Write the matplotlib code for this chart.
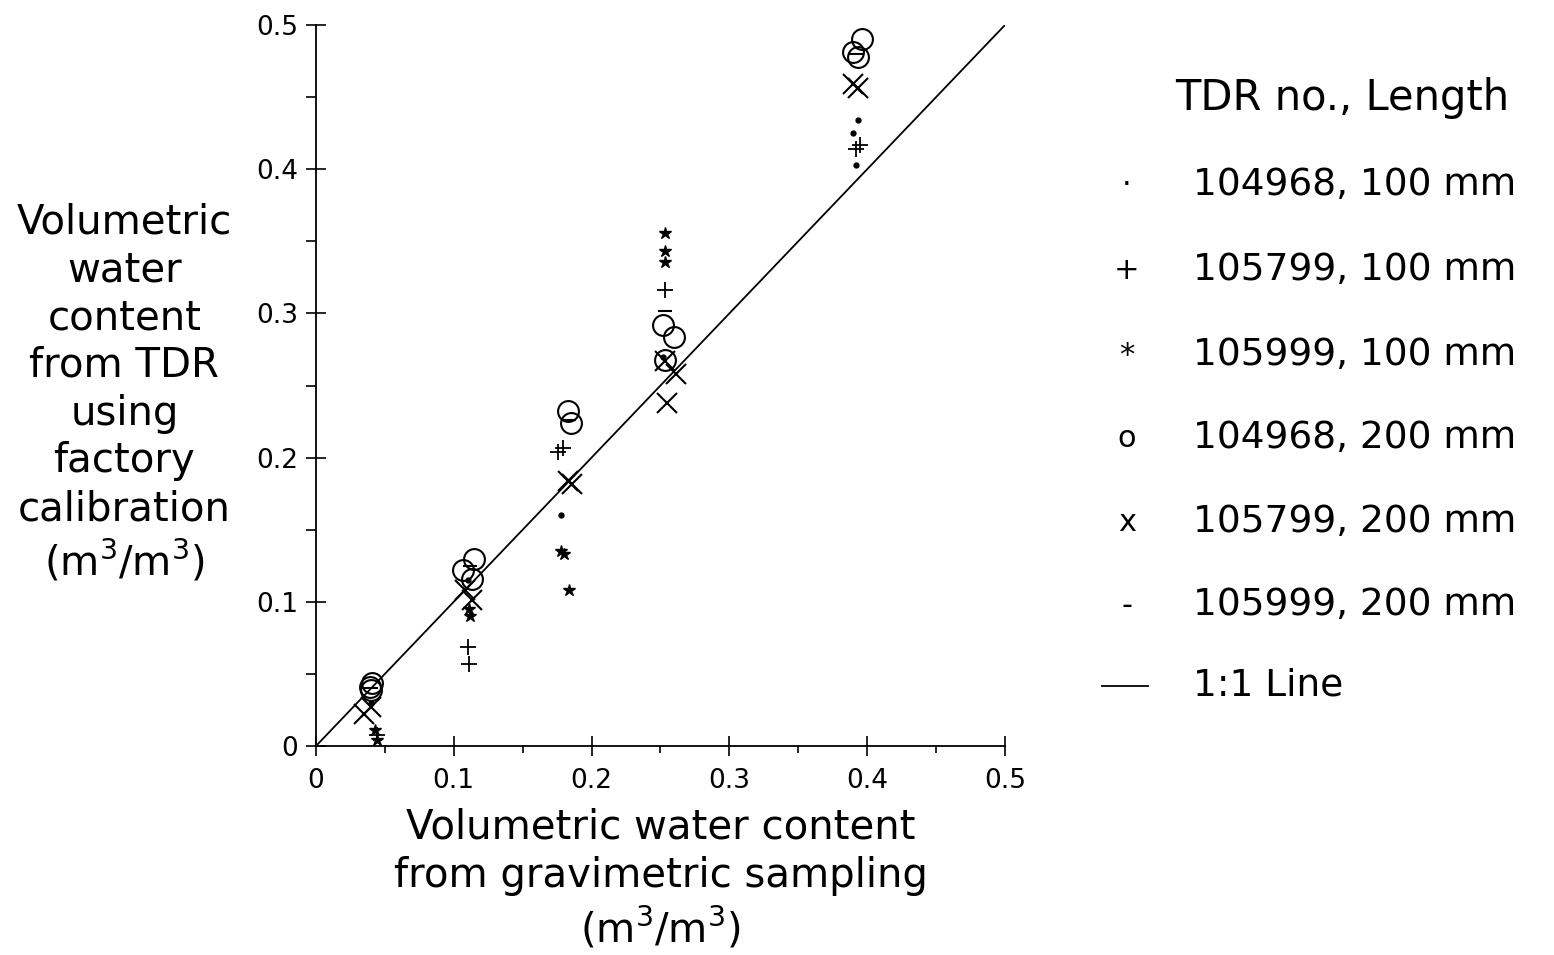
import matplotlib.pyplot as plt
import numpy as np

plt.rcParams['font.family'] = ['DejaVu Sans']

# gravimetric (x) vs TDR (y), one pair of lists per probe / length
dot_x = [0.040, 0.110, 0.178, 0.252, 0.393, 0.390, 0.392]
dot_y = [0.030, 0.115, 0.160, 0.270, 0.434, 0.425, 0.403]

plus_x = [0.044, 0.110, 0.111, 0.176, 0.179, 0.253, 0.392, 0.395]
plus_y = [0.008, 0.069, 0.057, 0.204, 0.207, 0.316, 0.414, 0.417]

star_x = [0.043, 0.044, 0.111, 0.112, 0.178, 0.180, 0.184, 0.253, 0.253, 0.253]
star_y = [0.011, 0.004, 0.095, 0.090, 0.135, 0.133, 0.108, 0.356, 0.343, 0.336]

circ_x = [0.039, 0.041, 0.040, 0.107, 0.115, 0.113, 0.183, 0.185, 0.252, 0.260, 0.253, 0.396, 0.390, 0.393]
circ_y = [0.041, 0.044, 0.039, 0.122, 0.130, 0.116, 0.232, 0.224, 0.292, 0.284, 0.268, 0.490, 0.481, 0.478]

cross_x = [0.035, 0.040, 0.108, 0.113, 0.183, 0.186, 0.253, 0.261, 0.255, 0.390, 0.393]
cross_y = [0.022, 0.027, 0.108, 0.101, 0.184, 0.182, 0.267, 0.258, 0.238, 0.459, 0.456]

dash_x = [0.040, 0.112, 0.184, 0.253, 0.392]
dash_y = [0.040, 0.125, 0.226, 0.302, 0.480]

tick_vals = [0, 0.1, 0.2, 0.3, 0.4, 0.5]
tick_labels = ['0', '0.1', '0.2', '0.3', '0.4', '0.5']

legend_syms = ['\u00b7', '+', '*', 'o', 'x', '-']
legend_labels = ['104968, 100 mm', '105799, 100 mm', '105999, 100 mm',
                 '104968, 200 mm', '105799, 200 mm', '105999, 200 mm']

fig = plt.figure(figsize=(15.54, 9.55), dpi=100)
ax = fig.add_axes([0.2033, 0.2188, 0.4434, 0.755])

ax.plot([0, 0.5], [0, 0.5], color='black', lw=1.3)
ax.plot(dot_x, dot_y, ls='none', marker='.', ms=7, color='black')
ax.plot(plus_x, plus_y, ls='none', marker='+', ms=12, mew=1.3, color='black')
ax.plot(star_x, star_y, ls='none', marker='*', ms=9, color='black')
ax.plot(circ_x, circ_y, ls='none', marker='o', ms=15, mfc='none', mew=1.5, color='black')
ax.plot(cross_x, cross_y, ls='none', marker='x', ms=14, mew=1.5, color='black')
ax.plot(dash_x, dash_y, ls='none', marker='_', ms=10, mew=1.5, color='black')

ax.set_xlim(0, 0.5)
ax.set_ylim(0, 0.5)
for s in ['top', 'right']:
    ax.spines[s].set_visible(False)
ax.spines['left'].set_linewidth(1.3)
ax.spines['bottom'].set_linewidth(1.3)

ax.set_xticks(tick_vals)
ax.set_xticklabels(tick_labels)
ax.set_yticks(tick_vals)
ax.set_yticklabels(tick_labels)
ax.set_xticks(np.arange(0.05, 0.5, 0.1), minor=True)
ax.set_yticks(np.arange(0.05, 0.5, 0.1), minor=True)
ax.tick_params(axis='both', which='major', direction='inout', length=14, width=1.2,
               labelsize=19)
ax.tick_params(axis='x', which='major', pad=9)
ax.tick_params(axis='y', which='major', pad=6)
ax.tick_params(axis='x', which='minor', direction='out', length=5, width=1.2)
ax.tick_params(axis='y', which='minor', direction='out', length=7, width=1.2)

fig.text(0.425, 0.154, 'Volumetric water content\nfrom gravimetric sampling\n(m$^3$/m$^3$)',
         fontsize=29, ha='center', va='top', linespacing=1.25)
fig.text(0.080, 0.588, 'Volumetric\nwater\ncontent\nfrom TDR\nusing\nfactory\ncalibration\n(m$^3$/m$^3$)',
         fontsize=29, ha='center', va='center', linespacing=1.25)

# legend drawn as text, like the original
fig.text(0.756, 0.897, 'TDR no., Length', fontsize=30, va='center')
rows = [0.806, 0.717, 0.628, 0.541, 0.453, 0.366]
for sym, lab, yy in zip(legend_syms, legend_labels, rows):
    fig.text(0.725, yy, sym, fontsize=22, ha='center', va='center')
    fig.text(0.768, yy, lab, fontsize=27, va='center')
fig.add_artist(plt.Line2D([0.709, 0.739], [0.282, 0.282], color='black', lw=1.3))
fig.text(0.768, 0.282, '1:1 Line', fontsize=27, va='center')

fig.savefig('out.png', dpi=100)
